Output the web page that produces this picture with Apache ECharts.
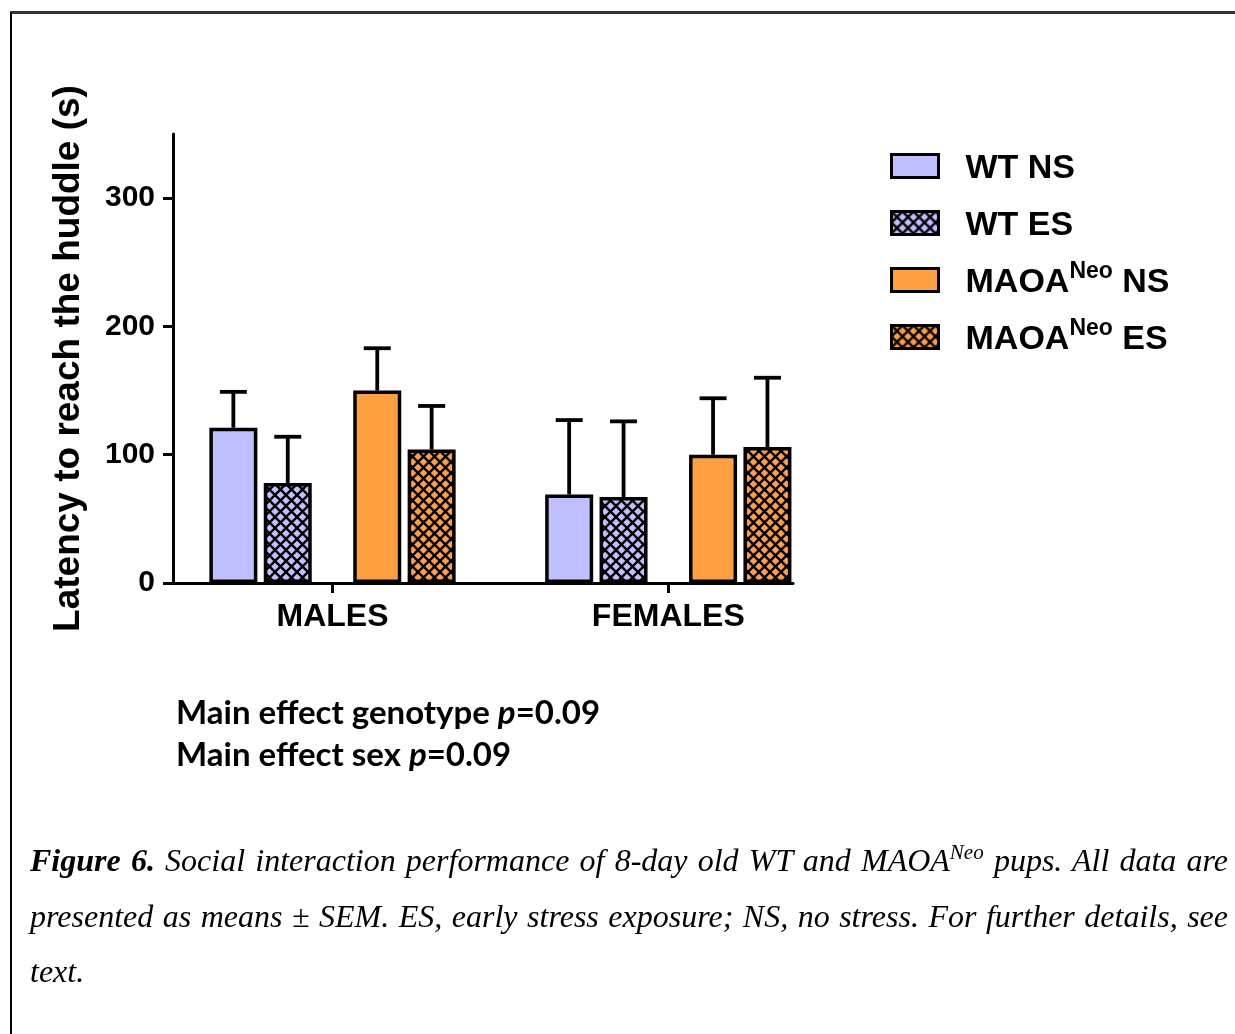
<!DOCTYPE html>
<html>
<head>
<meta charset="utf-8">
<script src="https://cdn.jsdelivr.net/npm/echarts@6/dist/echarts.min.js"></script>
<style>
    body { margin: 0; background: #fff; }
    #main { position: absolute; left: 0; top: 0; width: 1235px; height: 1034px; }
    .frame { position: absolute; left: 10px; top: 11px; width: 1230px; height: 1030px;
        border-top: 3px solid #333; border-left: 2px solid #000; pointer-events: none; }
    .caption { position: absolute; left: 30px; top: 833px; width: 1198px;
        font-family: 'Liberation Serif', 'Times New Roman', serif; font-style: italic;
        font-size: 32px; line-height: 55.5px; color: #000; }
    .caption div { text-align: justify; text-align-last: justify; white-space: nowrap; }
    .caption div.last { text-align-last: left; }
    .caption sup { font-size: 21px; line-height: 0; }
</style>
</head>
<body>
<div id="main"></div>
<div class="frame"></div>
<div class="caption">
    <div><b>Figure 6.</b> Social interaction performance of 8-day old WT and MAOA<sup>Neo</sup> pups. All data are</div>
    <div>presented as means ± SEM. ES, early stress exposure; NS, no stress. For further details, see</div>
    <div class="last">text.</div>
</div>
<script>
// 数据
const categories = ['MALES', 'FEMALES'];
const seriesNames = ['WT NS', 'WT ES', 'MAOA-Neo NS', 'MAOA-Neo ES'];
const legendLabels = ['{b|WT NS}{s| }', '{b|WT ES}{s| }', '{b|MAOA}{s|Neo}{b| NS}', '{b|MAOA}{s|Neo}{b| ES}'];
const wtNS = [121, 69];
const wtNSsem = [28, 58];
const wtES = [78, 67];
const wtESsem = [36, 59];
const maoaNS = [150, 100];
const maoaNSsem = [33, 44];
const maoaES = [104, 106];
const maoaESsem = [34, 54];
const yTicks = [0, 100, 200, 300];

const lavender = '#C0C0FF';
const orange = '#FFA040';

// 交叉网格填充
const hatch = (fill) => {
    const s = 11;
    const c = document.createElement('canvas');
    c.width = s;
    c.height = s;
    const ctx = c.getContext('2d');
    ctx.fillStyle = fill;
    ctx.fillRect(0, 0, s, s);
    ctx.strokeStyle = '#000';
    ctx.lineWidth = 2.4;
    ctx.beginPath();
    ctx.moveTo(0, 0);
    ctx.lineTo(s, s);
    ctx.moveTo(s, 0);
    ctx.lineTo(0, s);
    ctx.stroke();
    return {image: c, repeat: 'repeat'};
};

// 柱子宽度（中间有一个空位）
const barW = 48;
const blankW = 31;
const gapPct = 0.133;
const widths = [barW, barW, blankW, barW, barW];
const offsets = (() => {
    let total = 0;
    widths.forEach(w => total += w * (1 + gapPct));
    total -= widths[widths.length - 1] * gapPct;
    let off = -total / 2;
    const res = [];
    widths.forEach(w => {
        res.push(off + w / 2);
        off += w * (1 + gapPct);
    });
    return res;
})();

const font = 'Liberation Sans';

const barSeries = (name, data, color, width) => ({
    name: name,
    type: 'bar',
    xAxisIndex: 0,
    yAxisIndex: 0,
    barWidth: width,
    barGap: (gapPct * 100) + '%',
    data: data,
    itemStyle: {color: color, borderColor: '#000', borderWidth: 3.5},
    emphasis: {disabled: true},
    z: 2
});

const errSeries = (means, sems, off) => ({
    type: 'custom',
    xAxisIndex: 0,
    yAxisIndex: 0,
    data: means.map((m, i) => [i, m, sems[i]]),
    encode: {x: 0, y: 1},
    z: 3,
    silent: true,
    renderItem: (params, api) => {
        const base = api.coord([api.value(0), api.value(1)]);
        const top = api.coord([api.value(0), api.value(1) + api.value(2)]);
        const x = base[0] + off;
        const st = {stroke: '#000', lineWidth: 3.8};
        return {
            type: 'group',
            children: [
                {type: 'line', shape: {x1: x, y1: base[1], x2: x, y2: top[1]}, style: st},
                {type: 'line', shape: {x1: x - 13.5, y1: top[1], x2: x + 13.5, y2: top[1]}, style: st}
            ]
        };
    }
});

const myChart = echarts.init(document.getElementById('main'), null, {renderer: 'canvas'});

const option = {
    backgroundColor: '#fff',
    animation: false,
    grid: [
        {left: 164.6, top: 134, width: 671.6, height: 449},
        {left: 173, top: 134, width: 620, height: 449}
    ],
    xAxis: [
        {
            type: 'category',
            gridIndex: 0,
            data: categories,
            axisLine: {show: false},
            axisTick: {show: true, alignWithLabel: true, length: 10, lineStyle: {color: '#000', width: 3}},
            axisLabel: {color: '#000', fontFamily: font, fontWeight: 'bold', fontSize: 32, margin: 18}
        },
        {
            type: 'value',
            gridIndex: 1,
            min: 0,
            max: 1,
            axisLine: {show: true, lineStyle: {color: '#000', width: 3}},
            axisTick: {show: false},
            axisLabel: {show: false},
            splitLine: {show: false}
        }
    ],
    yAxis: [
        {type: 'value', gridIndex: 0, min: 0, max: 350, show: false},
        {
            type: 'value',
            gridIndex: 1,
            min: 0,
            max: 350,
            interval: 50,
            name: 'Latency to reach the huddle (s)',
            nameLocation: 'middle',
            nameGap: 86,
            nameTextStyle: {color: '#000', fontFamily: font, fontWeight: 'bold', fontSize: 37},
            axisLine: {show: true, lineStyle: {color: '#000', width: 3}},
            axisTick: {show: true, customValues: yTicks, length: 10, lineStyle: {color: '#000', width: 3}},
            axisLabel: {customValues: yTicks, color: '#000', fontFamily: font, fontWeight: 'bold', fontSize: 30, margin: 18},
            splitLine: {show: false}
        }
    ],
    legend: {
        data: seriesNames,
        orient: 'vertical',
        left: 885,
        top: 141,
        itemWidth: 47,
        itemHeight: 23,
        itemGap: 17,
        selectedMode: false,
        icon: 'rect',
        itemStyle: {borderColor: '#000', borderWidth: 3},
        formatter: (name) => legendLabels[seriesNames.indexOf(name)],
        textStyle: {
            padding: [0, 0, 0, 22],
            rich: {
                b: {fontFamily: font, fontWeight: 'bold', fontSize: 34, color: '#000', lineHeight: 40, verticalAlign: 'bottom'},
                s: {fontFamily: font, fontWeight: 'bold', fontSize: 23, color: '#000', lineHeight: 40, verticalAlign: 'top'}
            }
        }
    },
    graphic: [
        {
            type: 'text',
            left: 176,
            top: 697,
            style: {
                text: '{n|Main effect genotype }{i|p}{n|=0.09}\n{n|Main effect sex }{i|p}{n|=0.09}',
                rich: {
                    n: {fontFamily: 'Lato', fontWeight: 'bold', fontSize: 33, lineHeight: 42, fill: '#000'},
                    i: {fontFamily: 'Lato', fontWeight: 'bold', fontStyle: 'italic', fontSize: 33, lineHeight: 42, fill: '#000'}
                }
            }
        }
    ],
    series: [
        barSeries(seriesNames[0], wtNS, lavender, barW),
        barSeries(seriesNames[1], wtES, hatch(lavender), barW),
        barSeries('blank', [null, null], 'transparent', blankW),
        barSeries(seriesNames[2], maoaNS, orange, barW),
        barSeries(seriesNames[3], maoaES, hatch(orange), barW),
        errSeries(wtNS, wtNSsem, offsets[0]),
        errSeries(wtES, wtESsem, offsets[1]),
        errSeries(maoaNS, maoaNSsem, offsets[3]),
        errSeries(maoaES, maoaESsem, offsets[4])
    ]
};

option && myChart.setOption(option);
</script>
</body>
</html>
